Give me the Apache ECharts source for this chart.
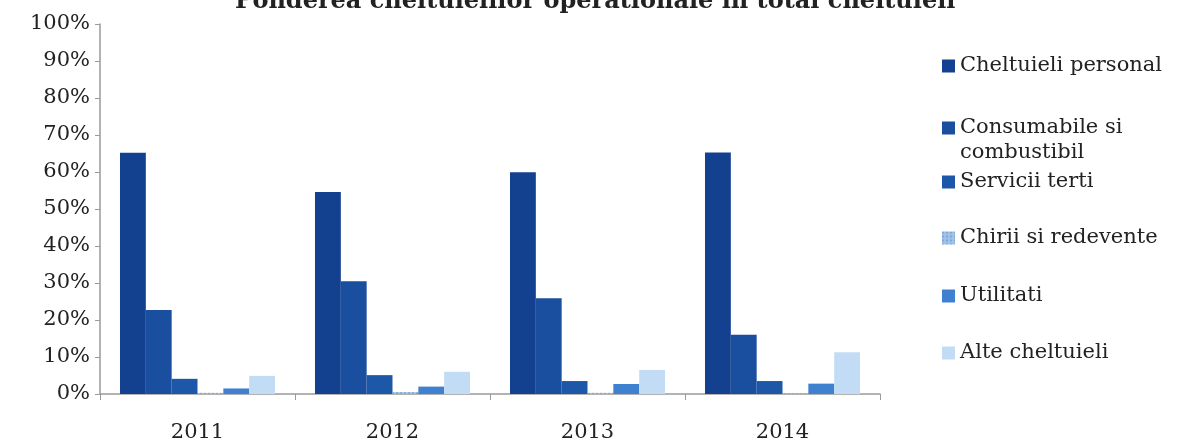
<!DOCTYPE html>
<html>
<head>
<meta charset="utf-8">
<script src="https://cdn.jsdelivr.net/npm/echarts@6/dist/echarts.min.js"></script>
<style>html,body{margin:0;padding:0;background:#fff;}#c{width:1182px;height:439px;}</style>
</head>
<body>
<div id="c"></div>
<script>
var years = ['2011', '2012', '2013', '2014'];
var seriesNames = ['Cheltuieli personal', 'Consumabile si combustibil', 'Servicii terti', 'Chirii si redevente', 'Utilitati', 'Alte cheltuieli'];
var personal = [65.2, 54.6, 59.9, 65.3];
var consumabile = [22.7, 30.5, 25.9, 16.0];
var servicii = [4.1, 5.1, 3.5, 3.5];
var chirii = [0.3, 0.5, 0.3, 0.2];
var utilitati = [1.5, 2.0, 2.7, 2.8];
var alte = [4.9, 6.0, 6.5, 11.3];
var yTicks = [0, 10, 20, 30, 40, 50, 60, 70, 80, 90, 100];

var FONT = 'DejaVu Serif';
var colors = ['#13408f', '#1a4e9f', '#1d57a8', '#9fc2e8', '#3f80d0', '#c2dcf5'];
var allData = [personal, consumabile, servicii, chirii, utilitati, alte];
var legendTops = [65, 127, 181, 237, 295, 352];

var series = seriesNames.map(function (n, i) {
  var s = {
    name: n, type: 'bar', data: allData[i], barGap: '0%', barCategoryGap: '20.5%',
    itemStyle: { color: colors[i] }
  };
  if (i === 3) {
    s.itemStyle.decal = { symbol: 'rect', symbolSize: 0.7, color: 'rgba(30,80,160,0.45)', dashArrayX: [2, 2], dashArrayY: [2, 2] };
  }
  return s;
});

var legends = seriesNames.map(function (n, i) {
  return {
    data: [n], left: 942, top: legendTops[i] - 11, padding: 0, itemWidth: 13, itemHeight: 13,
    icon: 'rect', selectedMode: false,
    formatter: function (name) { return name === 'Consumabile si combustibil' ? 'Consumabile si' : name; },
    textStyle: { fontFamily: FONT, fontSize: 21, color: '#222', lineHeight: 24 }
  };
});

var chart = echarts.init(document.getElementById('c'));
chart.setOption({
  animation: false,
  aria: { enabled: true, decal: { show: false } },
  title: {
    text: 'Ponderea cheltuielilor operationale in total cheltuieli',
    left: 230, top: -15,
    textStyle: { fontFamily: FONT, fontSize: 24, fontWeight: 'bold', color: '#222' }
  },
  legend: legends,
  graphic: [{
    type: 'text', left: 960, top: 142,
    style: { text: 'combustibil', font: '21px "DejaVu Serif"', fill: '#222' }
  }],
  grid: { left: 100, right: 302, top: 24, bottom: 45, outerBoundsMode: 'none', containLabel: false },
  xAxis: {
    type: 'category', data: years,
    axisLine: { lineStyle: { color: '#9a9a9a', width: 1.5 } },
    axisTick: { show: true, length: 6, lineStyle: { color: '#9a9a9a' } },
    axisLabel: { fontFamily: FONT, fontSize: 21, color: '#222', margin: 28 }
  },
  yAxis: {
    type: 'value', min: 0, max: 100, interval: 10,
    splitLine: { show: false },
    axisLine: { show: true, lineStyle: { color: '#9a9a9a', width: 1.5 } },
    axisTick: { show: true, length: 5, lineStyle: { color: '#9a9a9a' } },
    axisLabel: {
      fontFamily: FONT, fontSize: 21, color: '#222', margin: 10,
      formatter: function (v) { return yTicks.indexOf(v) >= 0 ? v + '%' : ''; }
    }
  },
  series: series
});
</script>
</body>
</html>
